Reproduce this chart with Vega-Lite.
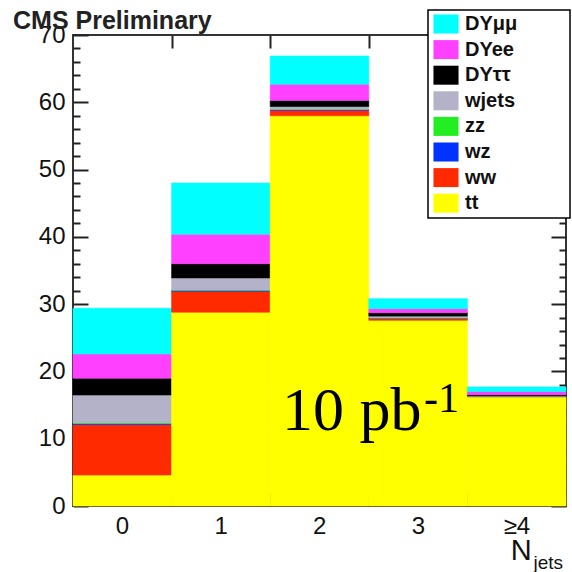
{
  "$schema": "https://vega.github.io/schema/vega-lite/v6.json",
  "autosize": {"type": "none"},
  "width": 493,
  "height": 471,
  "padding": {"left": 73, "top": 35, "right": 6, "bottom": 66},
  "background": "white",
  "title": {"text": "CMS Preliminary", "anchor": "start", "frame": "group", "dx": -60, "dy": 28, "offset": 3, "fontSize": 25, "font": "Liberation Sans", "fontWeight": "bold", "color": "#222"},
  "config": {
    "view": {"stroke": "#333", "strokeWidth": 2},
    "axis": {"domain": false, "grid": false, "tickColor": "#222", "tickWidth": 2, "labelFont": "Liberation Sans", "labelFontSize": 24, "labelColor": "#111", "labelFlush": false, "labelOverlap": false, "title": null}
  },
  "layer": [
    {
      "data": {"values": [
        {"bin": 0, "bin2": 1, "p": "tt", "ord": 0, "v": 4.6},
        {"bin": 0, "bin2": 1, "p": "ww", "ord": 1, "v": 7.5},
        {"bin": 0, "bin2": 1, "p": "wz", "ord": 2, "v": 0.15},
        {"bin": 0, "bin2": 1, "p": "zz", "ord": 3, "v": 0.1},
        {"bin": 0, "bin2": 1, "p": "wjets", "ord": 4, "v": 4.15},
        {"bin": 0, "bin2": 1, "p": "DYττ", "ord": 5, "v": 2.5},
        {"bin": 0, "bin2": 1, "p": "DYee", "ord": 6, "v": 3.6},
        {"bin": 0, "bin2": 1, "p": "DYμμ", "ord": 7, "v": 6.8},
        {"bin": 1, "bin2": 2, "p": "tt", "ord": 0, "v": 28.8},
        {"bin": 1, "bin2": 2, "p": "ww", "ord": 1, "v": 3.1},
        {"bin": 1, "bin2": 2, "p": "wz", "ord": 2, "v": 0.15},
        {"bin": 1, "bin2": 2, "p": "zz", "ord": 3, "v": 0.05},
        {"bin": 1, "bin2": 2, "p": "wjets", "ord": 4, "v": 1.8},
        {"bin": 1, "bin2": 2, "p": "DYττ", "ord": 5, "v": 2.1},
        {"bin": 1, "bin2": 2, "p": "DYee", "ord": 6, "v": 4.4},
        {"bin": 1, "bin2": 2, "p": "DYμμ", "ord": 7, "v": 7.6},
        {"bin": 2, "bin2": 3, "p": "tt", "ord": 0, "v": 58.0},
        {"bin": 2, "bin2": 3, "p": "ww", "ord": 1, "v": 0.8},
        {"bin": 2, "bin2": 3, "p": "wz", "ord": 2, "v": 0.12},
        {"bin": 2, "bin2": 3, "p": "zz", "ord": 3, "v": 0.05},
        {"bin": 2, "bin2": 3, "p": "wjets", "ord": 4, "v": 0.4},
        {"bin": 2, "bin2": 3, "p": "DYττ", "ord": 5, "v": 0.9},
        {"bin": 2, "bin2": 3, "p": "DYee", "ord": 6, "v": 2.4},
        {"bin": 2, "bin2": 3, "p": "DYμμ", "ord": 7, "v": 4.2},
        {"bin": 3, "bin2": 4, "p": "tt", "ord": 0, "v": 27.6},
        {"bin": 3, "bin2": 4, "p": "ww", "ord": 1, "v": 0.3},
        {"bin": 3, "bin2": 4, "p": "wz", "ord": 2, "v": 0.05},
        {"bin": 3, "bin2": 4, "p": "zz", "ord": 3, "v": 0.02},
        {"bin": 3, "bin2": 4, "p": "wjets", "ord": 4, "v": 0.25},
        {"bin": 3, "bin2": 4, "p": "DYττ", "ord": 5, "v": 0.5},
        {"bin": 3, "bin2": 4, "p": "DYee", "ord": 6, "v": 0.6},
        {"bin": 3, "bin2": 4, "p": "DYμμ", "ord": 7, "v": 1.5},
        {"bin": 4, "bin2": 5, "p": "tt", "ord": 0, "v": 16.2},
        {"bin": 4, "bin2": 5, "p": "ww", "ord": 1, "v": 0.1},
        {"bin": 4, "bin2": 5, "p": "wz", "ord": 2, "v": 0.03},
        {"bin": 4, "bin2": 5, "p": "zz", "ord": 3, "v": 0.02},
        {"bin": 4, "bin2": 5, "p": "wjets", "ord": 4, "v": 0.05},
        {"bin": 4, "bin2": 5, "p": "DYττ", "ord": 5, "v": 0.15},
        {"bin": 4, "bin2": 5, "p": "DYee", "ord": 6, "v": 0.45},
        {"bin": 4, "bin2": 5, "p": "DYμμ", "ord": 7, "v": 0.7}
      ]},
      "transform": [{"stack": "v", "groupby": ["bin"], "sort": [{"field": "ord", "order": "ascending"}], "as": ["v0", "v1"]}],
      "mark": {"type": "bar", "strokeWidth": 0.6},
      "encoding": {
        "x": {"field": "bin", "type": "quantitative", "scale": {"domain": [0, 5], "nice": false, "zero": false},
              "axis": {"orient": "bottom", "values": [0, 1, 2, 3, 4], "tickSize": -13, "labelOffset": 49, "labelPadding": 21, "labelExpr": "datum.value == 4 ? '≥4' : datum.label"}},
        "x2": {"field": "bin2"},
        "y": {"field": "v0", "type": "quantitative", "scale": {"domain": [0, 70], "nice": false},
              "axis": {"orient": "left", "values": [0,2,4,6,8,10,12,14,16,18,20,22,24,26,28,30,32,34,36,38,40,42,44,46,48,50,52,54,56,58,60,62,64,66,68,70],
                       "tickSize": {"condition": {"test": "datum.value % 10 === 0", "value": -15}, "value": -7},
                       "labelPadding": 23, "labelExpr": "datum.value % 10 === 0 ? datum.label : ''"}},
        "y2": {"field": "v1"},
        "color": {"field": "p", "type": "nominal",
                  "scale": {"domain": ["DYμμ", "DYee", "DYττ", "wjets", "zz", "wz", "ww", "tt"],
                            "range": ["#00FFFF", "#FF40FF", "#000000", "#B4B2C8", "#22EE22", "#0033FF", "#FF2A00", "#FFFF00"]},
                  "legend": {"orient": "none", "legendX": 355, "legendY": -25, "fillColor": "white", "strokeColor": "#000",
                             "padding": 4, "rowPadding": 5.6, "symbolType": "M-1.32,-1H1.32V1H-1.32Z", "symbolSize": 361, "symbolStrokeWidth": 0,
                             "symbolOffset": 4, "labelOffset": 9, "labelFont": "Liberation Sans", "labelFontWeight": "bold", "labelFontSize": 20, "labelColor": "#111",
                             "title": "\u00a0", "titleOrient": "right", "titlePadding": 49,
                             "encode": {"legend": {"update": {"strokeWidth": {"value": 1.5}}}}}},
        "stroke": {"field": "p", "type": "nominal", "legend": null,
                   "scale": {"domain": ["DYμμ", "DYee", "DYττ", "wjets", "zz", "wz", "ww", "tt"],
                             "range": ["#00FFFF", "#FF40FF", "#000000", "#B4B2C8", "#22EE22", "#0033FF", "#FF2A00", "#FFFF00"]}}
      }
    },
    {
      "data": {"values": [{"bin": 0, "v": 0}, {"bin": 5, "v": 70}]},
      "mark": {"type": "point", "opacity": 0},
      "encoding": {
        "x": {"field": "bin", "type": "quantitative", "axis": {"orient": "top", "values": [1, 2, 3, 4], "tickSize": -13, "labels": false}},
        "y": {"field": "v", "type": "quantitative",
              "axis": {"orient": "right", "values": [0,2,4,6,8,10,12,14,16,18,20,22,24,26,28,30,32,34,36,38,40,42,44,46,48,50,52,54,56,58,60,62,64,66,68,70],
                       "tickSize": {"condition": {"test": "datum.value % 10 === 0", "value": -15}, "value": -7}, "labels": false}}
      }
    },
    {
      "data": {"values": [{"t": "10 pb", "x": 2.12, "y": 11.3}]},
      "mark": {"type": "text", "font": "Liberation Serif", "fontSize": 62, "align": "left", "baseline": "alphabetic", "color": "#000"},
      "encoding": {"x": {"field": "x", "type": "quantitative", "axis": null}, "y": {"field": "y", "type": "quantitative", "axis": null}, "text": {"field": "t"}}
    },
    {
      "data": {"values": [{"t": "-1", "x": 3.56, "y": 14.0}]},
      "mark": {"type": "text", "font": "Liberation Serif", "fontSize": 42, "align": "left", "baseline": "alphabetic", "color": "#000"},
      "encoding": {"x": {"field": "x", "type": "quantitative", "axis": null}, "y": {"field": "y", "type": "quantitative", "axis": null}, "text": {"field": "t"}}
    },
    {
      "data": {"values": [{"t": "N", "x": 4.44, "y": -8.0}]},
      "mark": {"type": "text", "font": "Liberation Sans", "fontSize": 29, "align": "left", "baseline": "alphabetic", "color": "#111"},
      "encoding": {"x": {"field": "x", "type": "quantitative", "axis": null}, "y": {"field": "y", "type": "quantitative", "axis": null}, "text": {"field": "t"}}
    },
    {
      "data": {"values": [{"t": "jets", "x": 4.67, "y": -9.4}]},
      "mark": {"type": "text", "font": "Liberation Sans", "fontSize": 19, "align": "left", "baseline": "alphabetic", "color": "#111"},
      "encoding": {"x": {"field": "x", "type": "quantitative", "axis": null}, "y": {"field": "y", "type": "quantitative", "axis": null}, "text": {"field": "t"}}
    }
  ],
  "resolve": {"axis": {"x": "independent", "y": "independent"}}
}
